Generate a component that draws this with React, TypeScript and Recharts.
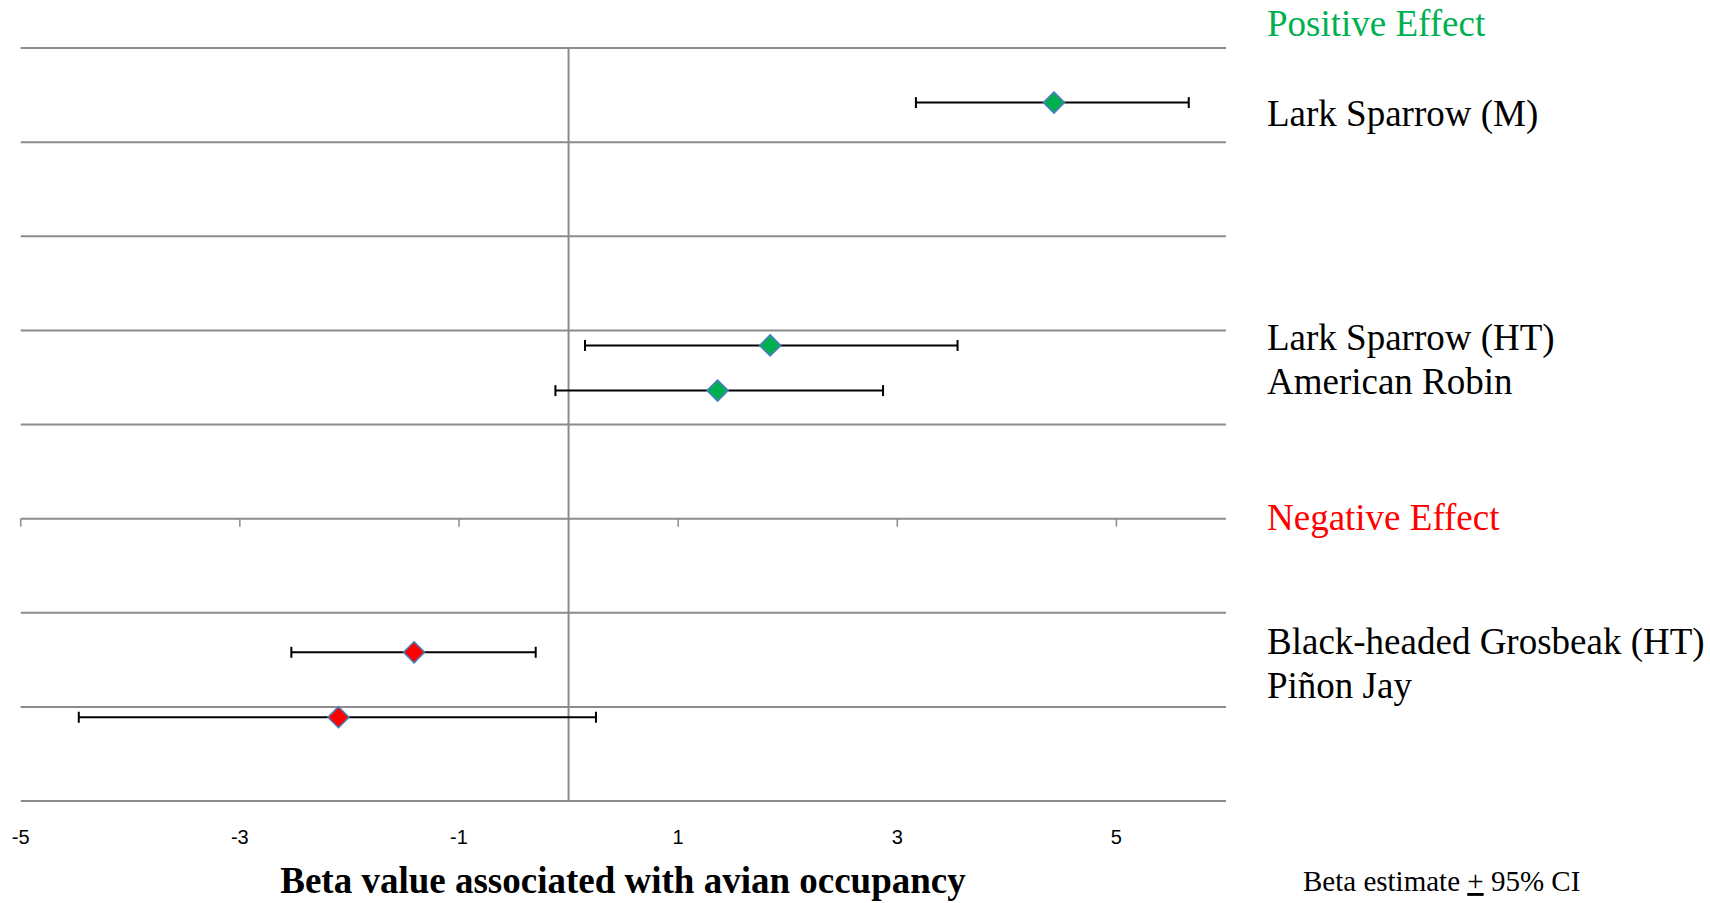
import React from 'react';
import { ScatterChart, Scatter, XAxis, YAxis, CartesianGrid, ReferenceLine, ErrorBar } from 'recharts';

// beta estimates with 95% CI
const species = ['Lark Sparrow (M)', 'Lark Sparrow (HT)', 'American Robin', 'Black-headed Grosbeak (HT)', 'Piñon Jay'];
const effect = ['pos', 'pos', 'pos', 'neg', 'neg'];
const beta = [4.43, 1.84, 1.36, -1.41, -2.1];
const ciLow = [3.17, 0.15, -0.12, -2.53, -4.47];
const ciHigh = [5.66, 3.55, 2.87, -0.3, 0.25];
const rowY = [7.42, 4.84, 4.36, 1.58, 0.89];

const xTicks = [-5, -3, -1, 1, 3, 5];
const yTicks = [0, 1, 2, 3, 4, 5, 6, 7, 8];
const xAxisCross = 3;

const sideLabels = ['Positive Effect', 'Lark Sparrow (M)', 'Lark Sparrow (HT)', 'American Robin', 'Negative Effect', 'Black-headed Grosbeak (HT)', 'Piñon Jay'];
const sideKinds = ['pos', 'name', 'name', 'name', 'neg', 'name', 'name'];

// layout (px)
const W = 1710;
const H = 903;
const labelX = 1267;
const labelBaselines = [36, 126, 350, 394, 530, 654, 698];

const GRID = '#8c8c8c';
const GREEN = '#00b050';
const RED = '#ff0000';
const SERIF = "'Liberation Serif', 'Times New Roman', serif";

const rows = species.map((name, i) => ({
  name,
  effect: effect[i],
  x: beta[i],
  y: rowY[i],
  err: [beta[i] - ciLow[i], ciHigh[i] - beta[i]],
}));
const positive = rows.filter((r) => r.effect === 'pos');
const negative = rows.filter((r) => r.effect === 'neg');

const diamond = (fill: string) => (props: any) => {
  const { cx, cy } = props;
  const r = 10.5;
  return (
    <polygon
      points={`${cx},${cy - r} ${cx + r},${cy} ${cx},${cy + r} ${cx - r},${cy}`}
      fill={fill}
      stroke="#4a7ebb"
      strokeWidth={1.6}
    />
  );
};

const XTick = (props: any) => {
  const { x, y, payload } = props;
  return (
    <text x={x} y={y + 14} textAnchor="middle" fontFamily="'Liberation Sans', Arial, sans-serif" fontSize={20} fill="#000">
      {payload.value}
    </text>
  );
};

export default function App() {
  return (
    <div style={{ position: 'absolute', left: 0, top: 0, width: W, height: H, background: '#fff' }}>
      <ScatterChart width={W} height={H} margin={{ top: 48, right: 484, bottom: 42, left: 20.7 }}>
        <CartesianGrid vertical={false} stroke={GRID} strokeWidth={2} />
        <XAxis
          type="number"
          dataKey="x"
          domain={[-5, 6]}
          ticks={xTicks}
          interval={0}
          axisLine={false}
          tickLine={false}
          tickSize={0}
          tickMargin={29}
          height={60}
          tick={<XTick />}
        />
        <YAxis type="number" dataKey="y" domain={[0, 8]} ticks={yTicks} hide />
        <ReferenceLine x={0} stroke={GRID} strokeWidth={2} />
        {xTicks.map((t) => (
          <ReferenceLine
            key={t}
            segment={[{ x: t, y: xAxisCross }, { x: t, y: xAxisCross - 0.085 }]}
            stroke={GRID}
            strokeWidth={1.5}
          />
        ))}
        <Scatter data={positive} shape={diamond(GREEN)} isAnimationActive={false}>
          <ErrorBar dataKey="err" direction="x" width={5.5} stroke="#000" strokeWidth={2} isAnimationActive={false} />
        </Scatter>
        <Scatter data={negative} shape={diamond(RED)} isAnimationActive={false}>
          <ErrorBar dataKey="err" direction="x" width={5.5} stroke="#000" strokeWidth={2} isAnimationActive={false} />
        </Scatter>
      </ScatterChart>
      <svg width={W} height={H} style={{ position: 'absolute', left: 0, top: 0, pointerEvents: 'none' }}>
        {sideLabels.map((s, i) => (
          <text
            key={s}
            x={labelX}
            y={labelBaselines[i]}
            fontFamily={SERIF}
            fontSize={37}
            fill={sideKinds[i] === 'pos' ? GREEN : sideKinds[i] === 'neg' ? RED : '#000'}
          >
            {s}
          </text>
        ))}
        <text x={623} y={893} textAnchor="middle" fontFamily={SERIF} fontSize={37} fontWeight="bold" fill="#000">
          Beta value associated with avian occupancy
        </text>
        <text x={1303} y={891} fontFamily={SERIF} fontSize={29} fill="#000">
          {'Beta estimate '}
          <tspan style={{ textDecoration: 'underline' }}>+</tspan>
          {' 95% CI'}
        </text>
      </svg>
    </div>
  );
}
